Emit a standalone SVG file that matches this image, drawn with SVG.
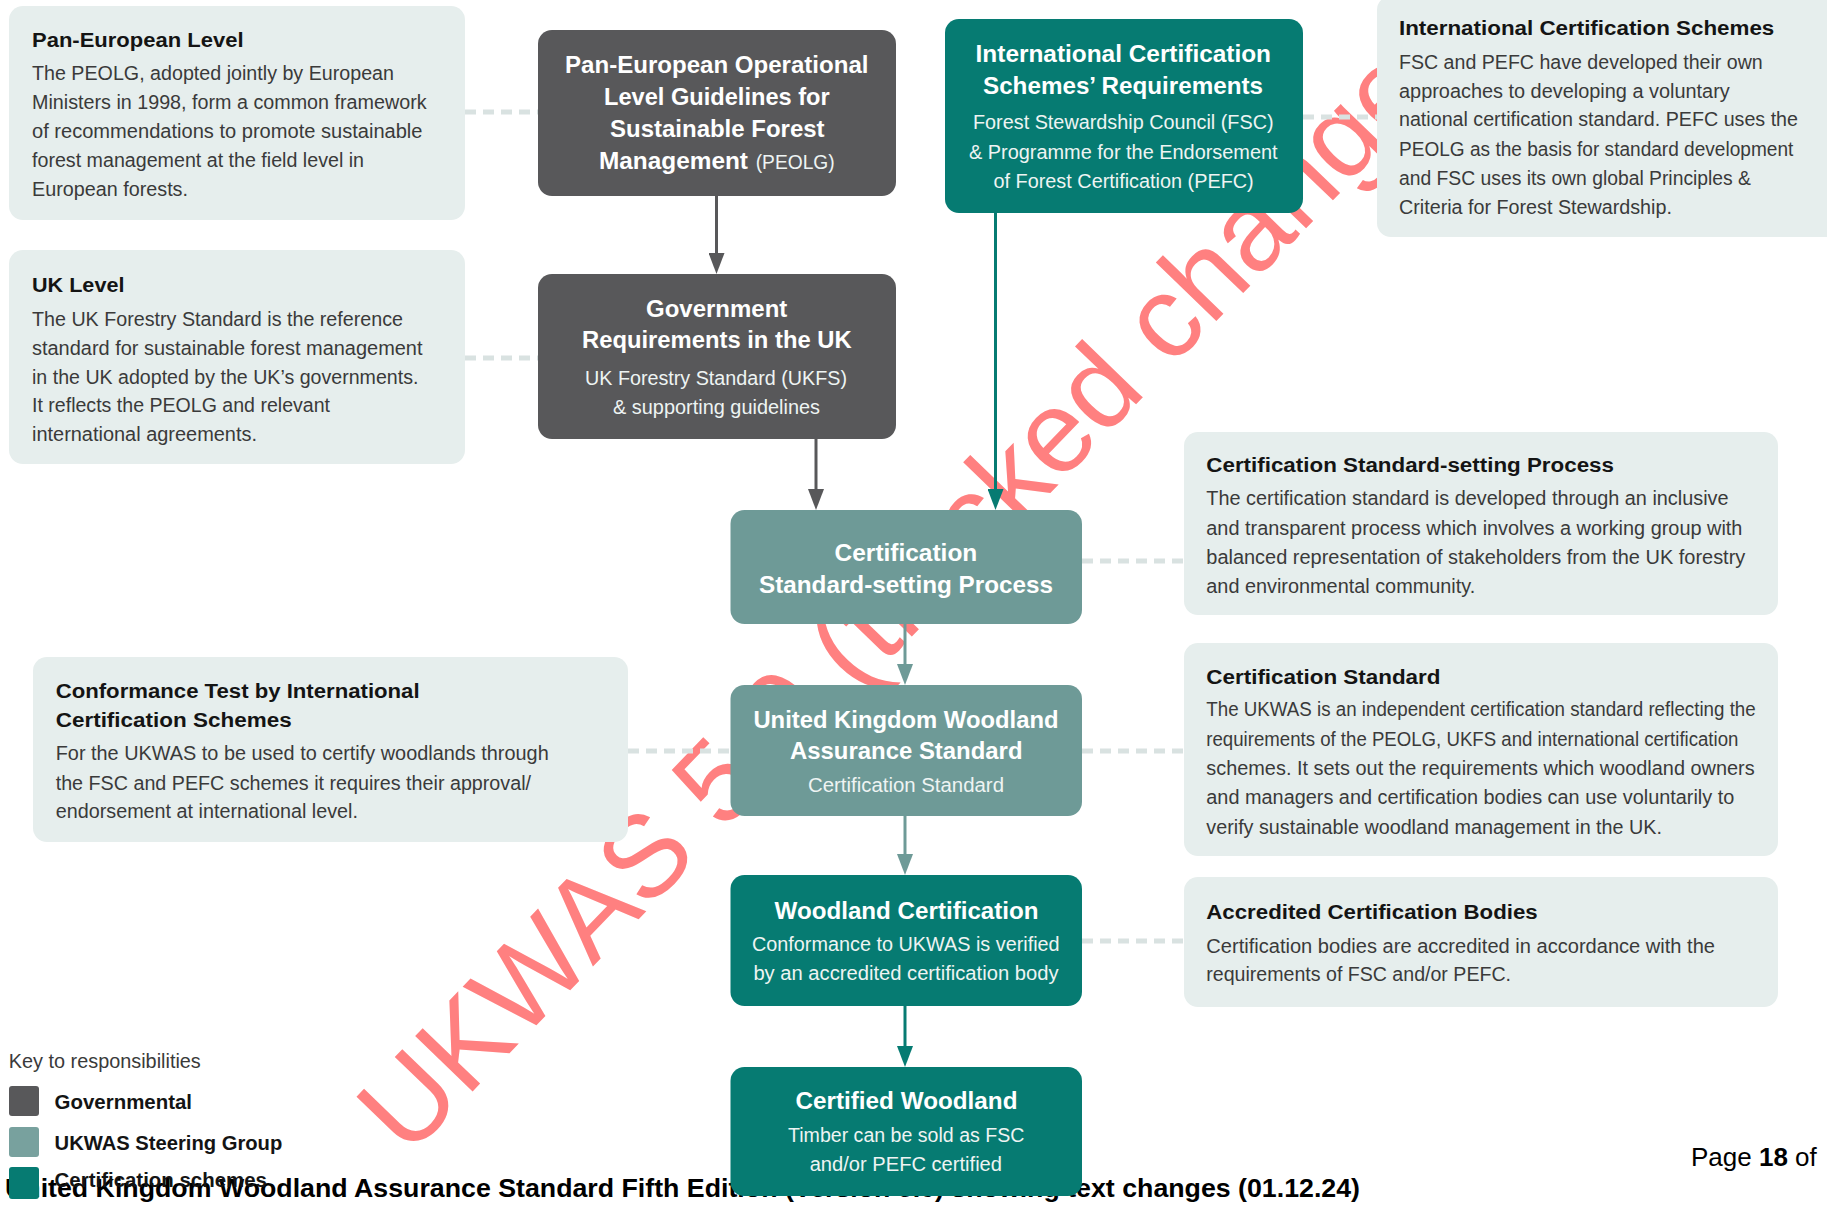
<svg xmlns="http://www.w3.org/2000/svg" width="1827" height="1207" viewBox="0 0 1827 1207">
<defs>
<style>
text{font-family:"Liberation Sans",Arial,Helvetica,sans-serif}
.lb{fill:#e6eeed}
.h{font-weight:bold;font-size:20px;fill:#141414}
.b{font-size:20px;fill:#3a3a3a}
.nh{font-weight:bold;font-size:24px;fill:#ffffff}
.ns{font-size:20px;fill:#eef4f3}
.dash{stroke:#d9e2e1;stroke-width:5;stroke-dasharray:11 7;fill:none}
.ar{stroke-width:3;fill:none}
.wm{font-size:116px;fill:#ff8080}
</style>
<marker id="aDark" markerUnits="userSpaceOnUse" markerWidth="21" markerHeight="16" refX="3" refY="8" orient="auto"><path d="M0,0 L21,8 L0,16 z" fill="#58585a"/></marker>
<marker id="aTeal" markerUnits="userSpaceOnUse" markerWidth="21" markerHeight="16" refX="3" refY="8" orient="auto"><path d="M0,0 L21,8 L0,16 z" fill="#067b72"/></marker>
<marker id="aSage" markerUnits="userSpaceOnUse" markerWidth="21" markerHeight="16" refX="3" refY="8" orient="auto"><path d="M0,0 L21,8 L0,16 z" fill="#6e9a97"/></marker>
</defs>
<rect width="1827" height="1207" fill="#ffffff"/>

<g id="footer">
<text x="5" y="1197" font-weight="bold" font-size="26" fill="#000" textLength="1355" lengthAdjust="spacingAndGlyphs">United Kingdom Woodland Assurance Standard Fifth Edition (Version 5.0) showing text changes (01.12.24)</text>
<text x="1691" y="1166" font-size="26" fill="#000">Page <tspan font-weight="bold">18</tspan> of</text>
</g>

<g id="watermark">
<text class="wm" transform="translate(407.7,1158.4) rotate(-46)">UKWAS 5.0 (tracked changes)</text>
</g>

<g id="connectors">
<path class="dash" d="M465,112 H538"/>
<path class="dash" d="M465,358 H538"/>
<path class="dash" d="M1303,117 H1377"/>
<path class="dash" d="M1082,561 H1184"/>
<path class="dash" d="M628,751 H731"/>
<path class="dash" d="M1082,751 H1184"/>
<path class="dash" d="M1082,941 H1184"/>
<path class="ar" stroke="#58585a" d="M716.5,196 V256" marker-end="url(#aDark)"/>
<path class="ar" stroke="#58585a" d="M816,439 V492" marker-end="url(#aDark)"/>
<path class="ar" stroke="#067b72" d="M995.5,213 V492" marker-end="url(#aTeal)"/>
<path class="ar" stroke="#6e9a97" d="M905,624 V667" marker-end="url(#aSage)"/>
<path class="ar" stroke="#6e9a97" d="M905,816 V857" marker-end="url(#aSage)"/>
<path class="ar" stroke="#067b72" d="M905,1006 V1049" marker-end="url(#aTeal)"/>
</g>

<g id="note-pan-european">
<rect class="lb" x="9" y="6" width="456" height="214" rx="14"/>
<text class="h" x="32" y="47" textLength="211.5" lengthAdjust="spacingAndGlyphs">Pan-European Level</text>
<text class="b" x="32" y="80" textLength="362" lengthAdjust="spacingAndGlyphs">The PEOLG, adopted jointly by European</text>
<text class="b" x="32" y="109" textLength="394.6" lengthAdjust="spacingAndGlyphs">Ministers in 1998, form a common framework</text>
<text class="b" x="32" y="138" textLength="390.5" lengthAdjust="spacingAndGlyphs">of recommendations to promote sustainable</text>
<text class="b" x="32" y="167" textLength="332" lengthAdjust="spacingAndGlyphs">forest management at the field level in</text>
<text class="b" x="32" y="196" textLength="156" lengthAdjust="spacingAndGlyphs">European forests.</text>
</g>

<g id="note-uk">
<rect class="lb" x="9" y="250" width="456" height="214" rx="14"/>
<text class="h" x="32" y="292" textLength="92.4" lengthAdjust="spacingAndGlyphs">UK Level</text>
<text class="b" x="32" y="326" textLength="371" lengthAdjust="spacingAndGlyphs">The UK Forestry Standard is the reference</text>
<text class="b" x="32" y="355" textLength="390.5" lengthAdjust="spacingAndGlyphs">standard for sustainable forest management</text>
<text class="b" x="32" y="384" textLength="386.4" lengthAdjust="spacingAndGlyphs">in the UK adopted by the UK’s governments.</text>
<text class="b" x="32" y="412" textLength="298" lengthAdjust="spacingAndGlyphs">It reflects the PEOLG and relevant</text>
<text class="b" x="32" y="441" textLength="225" lengthAdjust="spacingAndGlyphs">international agreements.</text>
</g>

<g id="note-conformance">
<rect class="lb" x="33" y="657" width="595" height="185" rx="14"/>
<text class="h" x="55.7" y="698" textLength="363.9" lengthAdjust="spacingAndGlyphs">Conformance Test by International</text>
<text class="h" x="55.7" y="727" textLength="236" lengthAdjust="spacingAndGlyphs">Certification Schemes</text>
<text class="b" x="55.7" y="760" textLength="493" lengthAdjust="spacingAndGlyphs">For the UKWAS to be used to certify woodlands through</text>
<text class="b" x="55.7" y="790" textLength="475.3" lengthAdjust="spacingAndGlyphs">the FSC and PEFC schemes it requires their approval/</text>
<text class="b" x="55.7" y="818" textLength="302.3" lengthAdjust="spacingAndGlyphs">endorsement at international level.</text>
</g>

<g id="note-ics">
<rect class="lb" x="1377" y="-4" width="470" height="241" rx="14"/>
<text class="h" x="1399" y="35" textLength="375.3" lengthAdjust="spacingAndGlyphs">International Certification Schemes</text>
<text class="b" x="1399" y="69" textLength="363.7" lengthAdjust="spacingAndGlyphs">FSC and PEFC have developed their own</text>
<text class="b" x="1399" y="98" textLength="330.7" lengthAdjust="spacingAndGlyphs">approaches to developing a voluntary</text>
<text class="b" x="1399" y="126" textLength="399" lengthAdjust="spacingAndGlyphs">national certification standard. PEFC uses the</text>
<text class="b" x="1399" y="156" textLength="394.3" lengthAdjust="spacingAndGlyphs">PEOLG as the basis for standard development</text>
<text class="b" x="1399" y="185" textLength="352" lengthAdjust="spacingAndGlyphs">and FSC uses its own global Principles &amp;</text>
<text class="b" x="1399" y="214" textLength="272.9" lengthAdjust="spacingAndGlyphs">Criteria for Forest Stewardship.</text>
</g>

<g id="note-setting-process">
<rect class="lb" x="1184" y="432" width="594" height="183" rx="14"/>
<text class="h" x="1206.3" y="472" textLength="407.7" lengthAdjust="spacingAndGlyphs">Certification Standard-setting Process</text>
<text class="b" x="1206.3" y="505" textLength="522.3" lengthAdjust="spacingAndGlyphs">The certification standard is developed through an inclusive</text>
<text class="b" x="1206.3" y="535" textLength="536.1" lengthAdjust="spacingAndGlyphs">and transparent process which involves a working group with</text>
<text class="b" x="1206.3" y="564" textLength="539" lengthAdjust="spacingAndGlyphs">balanced representation of stakeholders from the UK forestry</text>
<text class="b" x="1206.3" y="593" textLength="268.9" lengthAdjust="spacingAndGlyphs">and environmental community.</text>
</g>

<g id="note-cert-standard">
<rect class="lb" x="1184" y="643" width="594" height="213" rx="14"/>
<text class="h" x="1206.3" y="684" textLength="234.2" lengthAdjust="spacingAndGlyphs">Certification Standard</text>
<text class="b" x="1206.3" y="716" textLength="549.4" lengthAdjust="spacingAndGlyphs">The UKWAS is an independent certification standard reflecting the</text>
<text class="b" x="1206.3" y="746" textLength="532.1" lengthAdjust="spacingAndGlyphs">requirements of the PEOLG, UKFS and international certification</text>
<text class="b" x="1206.3" y="775" textLength="548.3" lengthAdjust="spacingAndGlyphs">schemes. It sets out the requirements which woodland owners</text>
<text class="b" x="1206.3" y="804" textLength="528" lengthAdjust="spacingAndGlyphs">and managers and certification bodies can use voluntarily to</text>
<text class="b" x="1206.3" y="834" textLength="455.7" lengthAdjust="spacingAndGlyphs">verify sustainable woodland management in the UK.</text>
</g>

<g id="note-accredited">
<rect class="lb" x="1184" y="877" width="594" height="130" rx="14"/>
<text class="h" x="1206.3" y="919" textLength="331.4" lengthAdjust="spacingAndGlyphs">Accredited Certification Bodies</text>
<text class="b" x="1206.3" y="953" textLength="508.7" lengthAdjust="spacingAndGlyphs">Certification bodies are accredited in accordance with the</text>
<text class="b" x="1206.3" y="981" textLength="304.7" lengthAdjust="spacingAndGlyphs">requirements of FSC and/or PEFC.</text>
</g>

<g id="node-peolg">
<rect x="538" y="30" width="358" height="166" rx="14" fill="#58585a"/>
<text class="nh" x="565" y="73" textLength="303.5" lengthAdjust="spacingAndGlyphs">Pan-European Operational</text>
<text class="nh" x="604" y="105" textLength="225.7" lengthAdjust="spacingAndGlyphs">Level Guidelines for</text>
<text class="nh" x="610" y="137" textLength="214.6" lengthAdjust="spacingAndGlyphs">Sustainable Forest</text>
<text class="nh" x="599" y="169" textLength="149" lengthAdjust="spacingAndGlyphs">Management</text>
<text class="ns" x="755.7" y="169" textLength="79" lengthAdjust="spacingAndGlyphs">(PEOLG)</text>
</g>

<g id="node-government">
<rect x="538" y="274" width="358" height="165" rx="14" fill="#58585a"/>
<text class="nh" x="646" y="316.6" textLength="141.3" lengthAdjust="spacingAndGlyphs">Government</text>
<text class="nh" x="582" y="348" textLength="269.6" lengthAdjust="spacingAndGlyphs">Requirements in the UK</text>
<text class="ns" x="585" y="384.7" textLength="262" lengthAdjust="spacingAndGlyphs">UK Forestry Standard (UKFS)</text>
<text class="ns" x="613" y="413.5" textLength="207" lengthAdjust="spacingAndGlyphs">&amp; supporting guidelines</text>
</g>

<g id="node-ics-requirements">
<rect x="945" y="19" width="358" height="194" rx="14" fill="#067b72"/>
<text class="nh" x="975.6" y="62" textLength="295.4" lengthAdjust="spacingAndGlyphs">International Certification</text>
<text class="nh" x="983" y="93.5" textLength="280" lengthAdjust="spacingAndGlyphs">Schemes’ Requirements</text>
<text class="ns" x="973" y="129.3" textLength="300.6" lengthAdjust="spacingAndGlyphs">Forest Stewardship Council (FSC)</text>
<text class="ns" x="969" y="159" textLength="308.6" lengthAdjust="spacingAndGlyphs">&amp; Programme for the Endorsement</text>
<text class="ns" x="993.5" y="188" textLength="260.2" lengthAdjust="spacingAndGlyphs">of Forest Certification (PEFC)</text>
</g>

<g id="node-setting-process">
<rect x="730.5" y="510" width="351.5" height="114" rx="14" fill="#6e9a97"/>
<text class="nh" x="834.6" y="561" textLength="142.7" lengthAdjust="spacingAndGlyphs">Certification</text>
<text class="nh" x="759" y="592.5" textLength="294" lengthAdjust="spacingAndGlyphs">Standard-setting Process</text>
</g>

<g id="node-ukwas">
<rect x="730.5" y="685" width="351.5" height="131" rx="14" fill="#6e9a97"/>
<text class="nh" x="753.4" y="728" textLength="305.1" lengthAdjust="spacingAndGlyphs">United Kingdom Woodland</text>
<text class="nh" x="790" y="758.5" textLength="232.5" lengthAdjust="spacingAndGlyphs">Assurance Standard</text>
<text class="ns" x="808" y="792" textLength="196" lengthAdjust="spacingAndGlyphs">Certification Standard</text>
</g>

<g id="node-woodland-certification">
<rect x="730.5" y="875" width="351.5" height="131" rx="14" fill="#067b72"/>
<text class="nh" x="774.5" y="918.5" textLength="264.1" lengthAdjust="spacingAndGlyphs">Woodland Certification</text>
<text class="ns" x="752" y="950.5" textLength="307.6" lengthAdjust="spacingAndGlyphs">Conformance to UKWAS is verified</text>
<text class="ns" x="753.4" y="979.5" textLength="305.1" lengthAdjust="spacingAndGlyphs">by an accredited certification body</text>
</g>

<g id="node-certified-woodland">
<rect x="730.5" y="1067" width="351.5" height="129" rx="14" fill="#067b72"/>
<text class="nh" x="795.5" y="1109" textLength="222" lengthAdjust="spacingAndGlyphs">Certified Woodland</text>
<text class="ns" x="788" y="1142" textLength="236.4" lengthAdjust="spacingAndGlyphs">Timber can be sold as FSC</text>
<text class="ns" x="809.7" y="1170.5" textLength="192.3" lengthAdjust="spacingAndGlyphs">and/or PEFC certified</text>
</g>

<g id="legend">
<text class="b" x="8.8" y="1068" fill="#222" textLength="192" lengthAdjust="spacingAndGlyphs">Key to responsibilities</text>
<rect x="9" y="1086" width="30" height="30" rx="3" fill="#58585a"/>
<text class="h" x="54.6" y="1109" textLength="137.4" lengthAdjust="spacingAndGlyphs">Governmental</text>
<rect x="9" y="1127" width="30" height="30" rx="3" fill="#78a19e"/>
<text class="h" x="54.6" y="1150" textLength="227.7" lengthAdjust="spacingAndGlyphs">UKWAS Steering Group</text>
<rect x="9" y="1167" width="30" height="32" rx="3" fill="#067b72"/>
<text class="h" x="54.6" y="1187" textLength="212.4" lengthAdjust="spacingAndGlyphs">Certification schemes</text>
</g>
</svg>
